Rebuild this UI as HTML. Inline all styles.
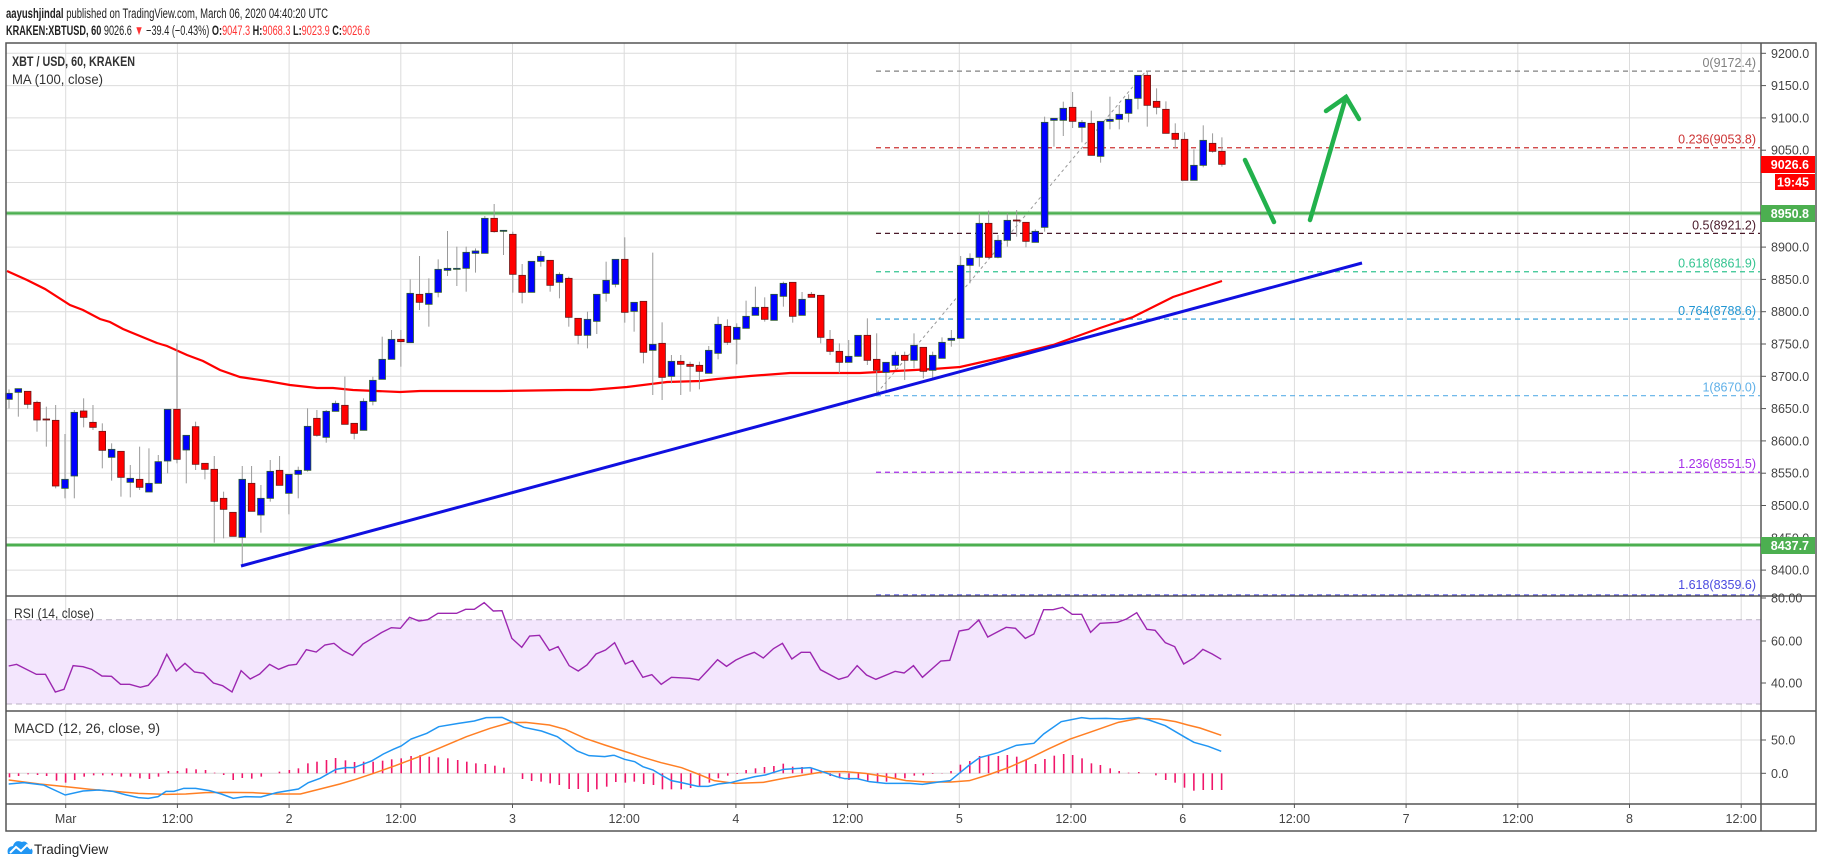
<!DOCTYPE html>
<html><head><meta charset="utf-8"><style>
html,body{margin:0;padding:0;background:#fff;}
svg{display:block;font-family:"Liberation Sans",sans-serif;}
</style></head><body>
<svg id="s" width="1828" height="868" viewBox="0 0 1828 868" xmlns="http://www.w3.org/2000/svg">
<rect width="1828" height="868" fill="#fff"/>
<g id="grid" stroke="#dcdcdc" stroke-width="1"></g>
<rect x="6" y="619.7" width="1755" height="84.3" fill="#f3e6fd"/>
<line x1="6" y1="619.7" x2="1761" y2="619.7" stroke="#b9b0c2" stroke-dasharray="6,4"/>
<line x1="6" y1="704" x2="1761" y2="704" stroke="#b9b0c2" stroke-dasharray="6,4"/>
<g id="fib"></g>
<g id="green"></g>
<g id="candles"></g>
<g id="lines"></g>
<g stroke="#555" stroke-width="1.5" fill="none">
<rect x="6" y="43" width="1810" height="788"/>
<line x1="1761" y1="43" x2="1761" y2="831"/>
<line x1="6" y1="596" x2="1816" y2="596"/>
<line x1="6" y1="711" x2="1816" y2="711"/>
<line x1="6" y1="804" x2="1816" y2="804"/>
</g>
<g id="axis" font-size="12.5" fill="#444"></g>
<text x="6" y="18" font-size="13.5" fill="#222" textLength="322" lengthAdjust="spacingAndGlyphs"><tspan font-weight="bold">aayushjindal</tspan> published on TradingView.com, March 06, 2020 04:40:20 UTC</text>
<text x="6" y="35" font-size="13.5" fill="#222" textLength="364" lengthAdjust="spacingAndGlyphs"><tspan font-weight="bold">KRAKEN:XBTUSD, 60</tspan> 9026.6 <tspan fill="#f33">▼</tspan> −39.4 (−0.43%) <tspan font-weight="bold">O:</tspan><tspan fill="#f33">9047.3</tspan> <tspan font-weight="bold">H:</tspan><tspan fill="#f33">9068.3</tspan> <tspan font-weight="bold">L:</tspan><tspan fill="#f33">9023.9</tspan> <tspan font-weight="bold">C:</tspan><tspan fill="#f33">9026.6</tspan></text>
<text x="12" y="66" font-size="14" fill="#333" font-weight="bold" textLength="123" lengthAdjust="spacingAndGlyphs">XBT / USD, 60, KRAKEN</text>
<text x="12" y="84" font-size="14" fill="#333" textLength="91" lengthAdjust="spacingAndGlyphs">MA (100, close)</text>
<text x="14" y="618" font-size="14" fill="#333" textLength="80" lengthAdjust="spacingAndGlyphs">RSI (14, close)</text>
<text x="14" y="733" font-size="14" fill="#333" textLength="146" lengthAdjust="spacingAndGlyphs">MACD (12, 26, close, 9)</text>
<g transform="translate(6,838)">
<path d="M2 16 Q0 9 7 8 Q9 1 16 4 Q21 2 23 9 Q28 11 26 16 Z" fill="#2196f3"/>
<polyline points="4,15 10,9 15,13 21,7 25,11" fill="none" stroke="#fff" stroke-width="2"/>
</g>
<text x="34" y="854" font-size="13.5" fill="#222">TradingView</text>
<g stroke="#22b14c" stroke-width="4.5" stroke-linecap="round" fill="none">
<line x1="1245" y1="160" x2="1274" y2="222"/>
<line x1="1310" y1="220" x2="1346" y2="97"/>
<polyline points="1326,111 1346,97 1359,119"/>
</g>
</svg>
<script>
const NS="http://www.w3.org/2000/svg";
function el(p,t,a,txt){const e=document.createElementNS(NS,t);for(const k in a)e.setAttribute(k,a[k]);if(txt!==undefined)e.textContent=txt;document.getElementById(p).appendChild(e);return e;}
const Y=p=>53.3+(9200-p)*0.646;
for(let k=0;k<16;k++){const x=65.7+111.7*k;el('grid','line',{x1:x,y1:43,x2:x,y2:804});el('axis','line',{x1:x,y1:804,x2:x,y2:808,stroke:'#555'});}
for(let p=8400;p<=9200;p+=50){el('grid','line',{x1:6,y1:Y(p),x2:1761,y2:Y(p)});}
[641,683,740,773.3].forEach(y=>el('grid','line',{x1:6,y1:y,x2:1761,y2:y}));
for(let p=8400;p<=9200;p+=50){if(p==9000)continue;el('axis','line',{x1:1761,y1:Y(p),x2:1766,y2:Y(p),stroke:'#555'});el('axis','text',{x:1771,y:Y(p)+4.5},p.toFixed(1));}
[[598,'80.00'],[641,'60.00'],[683,'40.00']].forEach(([y,t])=>{el('axis','line',{x1:1761,y1:y,x2:1766,y2:y,stroke:'#555'});el('axis','text',{x:1771,y:y+4.5},t);});
[[740,'50.0'],[773.3,'0.0']].forEach(([y,t])=>{el('axis','line',{x1:1761,y1:y,x2:1766,y2:y,stroke:'#555'});el('axis','text',{x:1771,y:y+4.5},t);});
const tl=['Mar','12:00','2','12:00','3','12:00','4','12:00','5','12:00','6','12:00','7','12:00','8','12:00'];
tl.forEach((t,k)=>el('axis','text',{x:65.7+111.7*k,y:823,'text-anchor':'middle'},t));
function tag(y1,h,x1,bg,t){el('axis','rect',{x:x1,y:y1,width:1815-x1,height:h,fill:bg});el('axis','text',{x:1809,y:y1+h/2+4.5,'text-anchor':'end',fill:'#fff','font-weight':'bold'},t);}
tag(156,17,1761,'#ff0000','9026.6');tag(174,16,1775,'#ff0000','19:45');
tag(205,17,1761,'#4caf50','8950.8');tag(537,17,1761,'#4caf50','8437.7');
const fib=[[9172.4,'0(9172.4)','#808080'],[9053.8,'0.236(9053.8)','#cc3333'],[8921.2,'0.5(8921.2)','#4a1a2a'],[8861.9,'0.618(8861.9)','#33c490'],[8788.6,'0.764(8788.6)','#2196d3'],[8670,'1(8670.0)','#5fb0e8'],[8551.5,'1.236(8551.5)','#a52ee8'],[8359.6,'1.618(8359.6)','#4b4be0']];
fib.forEach(([p,t,c])=>{const y=Math.min(Y(p),595);el('fib','line',{x1:876,y1:y,x2:1760,y2:y,stroke:c,'stroke-width':1.2,'stroke-dasharray':'5,4'});el('fib','text',{x:1756,y:Math.min(Y(p),593)-4,'text-anchor':'end',fill:c,'font-size':12.5},t);});
el('fib','line',{x1:877,y1:393,x2:1146,y2:71,stroke:'#999','stroke-width':1,'stroke-dasharray':'3,3'});
[213.3,545].forEach(y=>{el('green','line',{x1:6,y1:y,x2:1761,y2:y,stroke:'#a5d6a7','stroke-width':4});el('green','line',{x1:6,y1:y,x2:1761,y2:y,stroke:'#4caf50','stroke-width':2});});
const G=[[180,`B 640 658 628 685|B 626 637 626 710|R 634 673 634 686|R 667 720 662 755|R 717 719 680 800|R 721 918 675 925|B 898 925 762 955|B 697 888 690 955|R 693 712 655 742|R 727 742 675 750|R 754 811 730 865|B 808 832 790 902|R 814 892 814 950|B 895 907 855 952|R 898 922 800 930|B 910 936 805 936|B 845 910 825 910|B 688 843 688 880|R 688 838 490 850|B 766 810 766 910|R 740 853 725 870|R 850 868 850 898|R 868 964 828 1088|R 955 988 935 1075|R 997 1069 997 1069|B 898 1072 858 1160|R 910 994 858 994|B 955 1005 915 1058|B 874 955 840 965|R 871 916 828 916|B 883 940 883 1003|B 871 883 860 955|B 739 871 685 875|R 715 766 690 770|B 694 772 690 788|B 670 694 662 694|R 676 733 590 733|R 730 760 730 778|B 664 751 655 751|B 601 664 590 676|B 538 598 470 598|B 478 538 450 538|R 478 485 450 560|B 340 488 298 488`],
[180,`R 343 367 228 390|B 340 373 295 440|B 268 337 238 352|B 265 271 153 288|B 265 268 200 318|B 217 265 200 335|B 213 220 205 278|B 115 220 108 220|R 115 155 72 158|B 151 153 151 225|R 163 283 155 338|R 286 337 252 370|B 244 337 244 337|B 229 244 213 260|R 241 316 241 335|B 283 307 277 355|R 295 412 290 440|R 415 466 415 493|B 418 466 395 505|B 343 424 343 462|B 301 340 245 365|B 238 313 238 322|R 238 397 172 428|B 367 394 367 455|R 364 517 364 550|B 493 511 218 645|R 490 592 427 660|B 544 589 525 610|R 544 553 525 645|R 553 559 545 635|R 556 574 545 628|B 511 580 498 580|B 433 520 410 538|R 439 487 418 495|B 442 478 430 553|B 409 445 362 445|B 382 406 320 406|R 382 418 352 425|B 343 421 343 421|B 310 349 305 380|R 307 409 307 428|B 358 406 336 406|R 343 352 336 352`],
[50,`R 736 862 736 880|R 868 904 840 915|R 904 937 880 970|B 919 937 870 937|B 856 919 856 920|R 856 931 805 945|R 928 961 850 1035|B 937 967 937 1020|B 916 946 905 960|R 916 931 905 990|B 886 931 850 955|R 892 964 892 985|B 916 961 905 985|B 877 925 862 925|B 865 871 840 890|B 646 865 618 865|B 625 646 610 700|B 520 622 490 650|R 520 622 482 625|B 571 622 555 625|B 511 571 490 590|R 510 513 480 560|R 517 574 517 592|B 544 577 538 577|B 217 532 200 545|B 205 211 205 290|B 175 211 155 258|R 172 214 126 234|B 217 232 210 277|R 220 316 182 316|B 214 319 214 338|B 208 214 140 238|B 193 208 165 238|B 148 190 133 217|B 76 145 76 178|R 76 166 62 230|R 154 172 115 193|R 178 250 154 250|R 250 268 220 296|R 268 391 247 391|B 346 391 298 391|B 271 346 226 352|R 280 304 250 308|R 304 343 262 350`]];
const ma=[[7,271],[27,280],[45,289],[70,305],[83,310],[100,319],[110,322],[123,329],[157,343],[167,346],[187,355],[203,361],[220,370],[240,377],[267,381],[290,385],[317,388],[333,388],[353,390],[400,392],[420,391],[500,391],[567,390],[590,390],[627,387],[667,382],[700,381],[717,379],[750,376],[790,373],[860,373],[933,369],[960,367],[1000,358],[1053,345],[1100,328],[1133,317],[1173,297],[1222,281]];
el('candles','polyline',{points:ma.map(p=>p.join(',')).join(' '),fill:'none',stroke:'#ff0000','stroke-width':2.2});
let i=0;
G.forEach(([off,s])=>s.split('|').forEach(r=>{const a=r.trim().split(' ');const c=a[0];const [t,b,wt,wb]=a.slice(1).map(v=>off+(+v)/3);const x=9+9.33*i;
el('candles','line',{x1:x,y1:wt,x2:x,y2:wb,stroke:'#9a9a9a','stroke-width':1});
el('candles','rect',{x:x-3.3,y:t,width:6.6,height:Math.max(b-t,1),fill:c=='B'?'#0000ff':'#ff0000',stroke:c=='B'?'#2d5a2d':'#6a1515','stroke-width':0.8});i++;}));
el('lines','line',{x1:241,y1:566,x2:1362,y2:263,stroke:'#1010e0','stroke-width':3});
const r9=[[22,228],[42,223],[92,253],[115,253],[140,306],[162,298],[185,227],[210,230],[232,238],[258,258],[282,259],[305,283],[328,283],[355,292],[375,286],[398,255],[422,193],[446,243],[468,220],[492,246],[515,250],[540,279],[563,287],[587,306],[610,242],[633,267],[657,252],[682,223],[705,238],[730,226],[750,223],[775,179],[800,186],[822,165],[845,160],[868,182],[892,196],[918,162],[942,145],[965,128],[990,113],[1013,115],[1036,82],[1060,93],[1082,89],[1108,70],[1155,70],[1178,58],[1200,58],[1225,38],[1248,63],[1270,62],[1295,145],[1320,172],[1340,138],[1365,136],[1390,181],[1412,170],[1440,227],[1463,243],[1485,225],[1508,192],[1532,180],[1555,158]].map(([x,y])=>[x/2.53,590+y/3]);
const r10=[[62,222],[80,212],[105,262],[127,254],[150,283],[175,262],[220,265],[242,270],[265,240],[288,209],[310,229],[333,210],[356,197],[378,187],[400,204],[425,176],[447,160],[470,207],[493,187],[515,187],[540,239],[585,268],[607,260],[630,227],[653,255],[676,268],[723,244],[745,249],[768,227],[790,262],[835,213],[857,211],[880,123],[903,118],[928,90],[950,141],[995,112],[1018,115],[1042,145],[1063,132],[1087,59],[1110,59],[1133,52],[1157,73],[1180,73],[1202,127],[1225,100],[1268,97],[1290,87],[1315,68],[1340,118],[1360,121],[1385,158],[1408,170],[1430,222],[1455,204],[1477,178],[1500,192],[1522,208]].map(([x,y])=>[600+x/2.45,590+y/3]);
el('lines','polyline',{points:r9.concat(r10).map(p=>p.join(',')).join(' '),fill:'none',stroke:'#9c27b0','stroke-width':1.4});
const Z=773.3;
const h9=[[24,562],[47,558],[71,553],[95,555],[118,558],[143,572],[166,578],[189,570],[213,560],[237,556],[260,556],[284,556],[307,560],[330,560],[354,565],[378,567],[401,560],[426,543],[449,543],[472,535],[496,538],[520,540],[543,548],[566,555],[590,570],[613,564],[637,566],[661,560],[707,545],[732,540],[755,535],[779,520],[802,515],[826,510],[849,504],[874,511],[897,516],[920,515],[944,515],[968,512],[991,508],[1015,505],[1040,498],[1063,495],[1086,500],[1109,502],[1133,505],[1158,510],[1181,515],[1204,520],[1228,522],[1252,527],[1275,533],[1322,567],[1345,573],[1369,575],[1392,580],[1415,585],[1440,597],[1463,597],[1488,606],[1510,598],[1535,590],[1558,576]].map(([x,y])=>[x/2.53,590+y/3]);
const h10=[[62,578],[84,575],[107,582],[131,585],[153,598],[175,598],[199,598],[222,594],[244,588],[268,578],[290,565],[313,557],[336,552],[358,540],[381,535],[403,531],[426,528],[449,521],[472,530],[495,531],[518,535],[541,545],[564,558],[587,565],[610,570],[633,568],[656,572],[680,576],[702,575],[724,565],[747,565],[770,557],[792,556],[815,552],[838,549],[860,543],[883,524],[906,513],[930,498],[952,496],[976,498],[998,495],[1021,500],[1044,510],[1067,522],[1090,507],[1113,497],[1136,492],[1158,495],[1181,505],[1204,520],[1226,525],[1250,535],[1272,543],[1295,548],[1320,546],[1362,556],[1386,570],[1409,578],[1432,593],[1455,602],[1478,600],[1500,600],[1523,600]].map(([x,y])=>[600+x/2.45,590+y/3]);
h9.concat(h10).forEach(([x,y])=>el('lines','line',{x1:x,y1:Z,x2:x,y2:y,stroke:'#f0166a','stroke-width':1.6}));
const b9=[[22,582],[60,578],[110,585],[165,615],[210,603],[250,600],[285,604],[320,615],[350,623],[375,625],[400,620],[420,604],[440,604],[465,595],[495,595],[530,602],[560,612],[590,625],[620,620],[660,621],[700,608],[730,602],[755,597],[780,578],[810,565],[850,538],[875,533],[895,533],[940,513],[970,492],[995,478],[1015,468],[1040,447],[1080,430],[1110,410],[1160,400],[1200,393],[1230,383],[1270,382],[1300,398],[1325,412],[1370,423],[1410,440],[1460,483],[1490,497],[1530,500],[1550,496]].map(([x,y])=>[x/2.53,590+y/3]);
const b10=[[35,496],[60,508],[85,515],[105,530],[130,540],[150,555],[175,572],[200,578],[240,589],[265,589],[290,582],[320,578],[345,570],[380,560],[405,555],[450,538],[515,533],[545,545],[580,560],[600,566],[630,566],[660,575],[700,580],[760,580],[790,583],[830,576],[858,572],[880,550],[905,525],[930,503],[975,488],[1020,466],[1063,460],[1087,432],[1130,395],[1180,383],[1200,386],[1240,385],[1275,387],[1320,383],[1345,390],[1385,407],[1410,425],[1435,443],[1455,457],[1490,469],[1522,484]].map(([x,y])=>[600+x/2.45,590+y/3]);
const o9=[[22,570],[100,582],[165,590],[230,598],[280,603],[350,610],[420,613],[470,612],[520,608],[570,607],[640,608],[700,612],[760,612],[800,600],[860,582],[900,568],[950,548],[1000,527],[1060,500],[1120,470],[1180,440],[1240,415],[1290,398],[1330,397],[1390,405],[1430,418],[1480,445],[1530,465]].map(([x,y])=>[x/2.53,590+y/3]);
const o10=[[50,480],[100,500],[150,518],[200,533],[240,552],[280,572],[330,580],[400,577],[450,565],[500,555],[550,545],[600,545],[650,550],[700,560],[750,572],[800,576],[860,576],[905,572],[950,555],[1000,533],[1050,506],[1100,476],[1150,448],[1200,427],[1270,397],[1320,385],[1370,387],[1410,395],[1440,405],[1470,414],[1522,436]].map(([x,y])=>[600+x/2.45,590+y/3]);
el('lines','polyline',{points:o9.concat(o10).map(p=>p.join(',')).join(' '),fill:'none',stroke:'#ff7f24','stroke-width':1.5});
el('lines','polyline',{points:b9.concat(b10).map(p=>p.join(',')).join(' '),fill:'none',stroke:'#2196f3','stroke-width':1.5});
</script>
</body></html>
